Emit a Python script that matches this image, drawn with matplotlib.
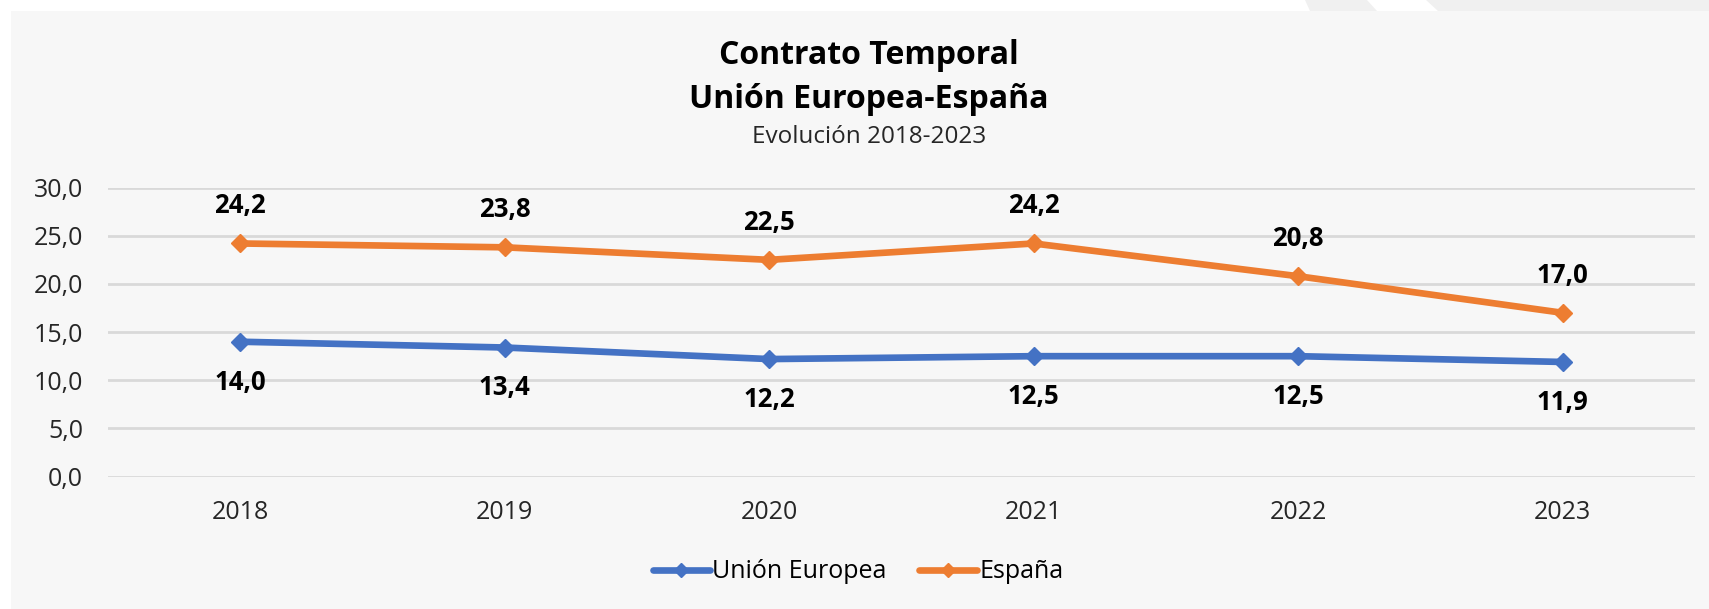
import matplotlib.pyplot as plt
from matplotlib.patches import Rectangle, Polygon

plt.rcParams['font.family'] = ['Open Sans', 'DejaVu Sans']

# datos
years = ["2018", "2019", "2020", "2021", "2022", "2023"]
ue = [14.0, 13.4, 12.2, 12.5, 12.5, 11.9]
espana = [24.2, 23.8, 22.5, 24.2, 20.8, 17.0]
yticks = [0, 5, 10, 15, 20, 25, 30]

W, H = 1709, 609
fig = plt.figure(figsize=(W / 100, H / 100), dpi=100, facecolor="white")

# panel de fondo y decoracion superior
fig.patches.append(Rectangle((11 / W, 0), 1 - 11 / W, 1 - 11 / H, transform=fig.transFigure,
                             facecolor="#f7f7f7", edgecolor="none", zorder=0))
fig.patches.append(Polygon([(1305 / W, 1), (1, 1), (1, 1 - 11 / H), (1310 / W, 1 - 11 / H)],
                           closed=True, transform=fig.transFigure,
                           facecolor="#f0f0f0", edgecolor="none", zorder=0))
fig.patches.append(Polygon([(1367 / W, 1), (1426 / W, 1), (1438 / W, 1 - 11 / H), (1377 / W, 1 - 11 / H)],
                           closed=True, transform=fig.transFigure,
                           facecolor="white", edgecolor="none", zorder=0))

ax = fig.add_axes([108 / W, 1 - 476.6 / H, (1695 - 108) / W, (476.6 - 187.6) / H])
ax.set_facecolor("none")
ax.set_zorder(3)

x = range(len(years))
ax.plot(x, ue, color="#4472C4", lw=4.8, marker="D", markersize=9, label="Unión Europea",
        solid_capstyle="round", zorder=3)
ax.plot(x, espana, color="#ED7D31", lw=4.8, marker="D", markersize=9, label="España",
        solid_capstyle="round", zorder=3)

for i, v in enumerate(ue):
    ax.annotate(f"{v:.1f}".replace(".", ","), (i, v), xytext=(0, -29), textcoords="offset points",
                ha="center", va="center", fontsize=18.5, fontweight="bold", color="black")
for i, v in enumerate(espana):
    ax.annotate(f"{v:.1f}".replace(".", ","), (i, v), xytext=(0, 27), textcoords="offset points",
                ha="center", va="center", fontsize=18.5, fontweight="bold", color="black")

ax.set_xlim(-0.5, len(years) - 0.5)
ax.set_ylim(0, 30)
ax.set_yticks(yticks)
ax.set_yticklabels([f"{t:.1f}".replace(".", ",") for t in yticks], fontsize=18, color="#262626")
ax.set_xticks(list(x))
ax.set_xticklabels(years, fontsize=18, color="#262626")
ax.tick_params(length=0, pad=17)
ax.tick_params(axis="y", pad=18)
ax.grid(axis="y", color="#d9d9d9", lw=2)
ax.set_axisbelow(True)
for s in ax.spines.values():
    s.set_visible(False)

tx = 869 / W
fig.text(tx, 1 - 55 / H, "Contrato Temporal", ha="center", va="center",
         fontsize=23, fontweight="bold")
fig.text(tx, 1 - 99 / H, "Unión Europea-España", ha="center", va="center",
         fontsize=23, fontweight="bold")
fig.text(tx, 1 - 137 / H, "Evolución 2018-2023", ha="center", va="center",
         fontsize=17.5, color="#262626")

leg = ax.legend(loc="center", bbox_to_anchor=(858 / W, 1 - 572 / H), bbox_transform=fig.transFigure,
                ncol=2, frameon=False, fontsize=18, handlelength=2.3, handletextpad=0.1,
                columnspacing=1.3, markerscale=0.8)

fig.savefig("out.png", dpi=100, facecolor=fig.get_facecolor())
